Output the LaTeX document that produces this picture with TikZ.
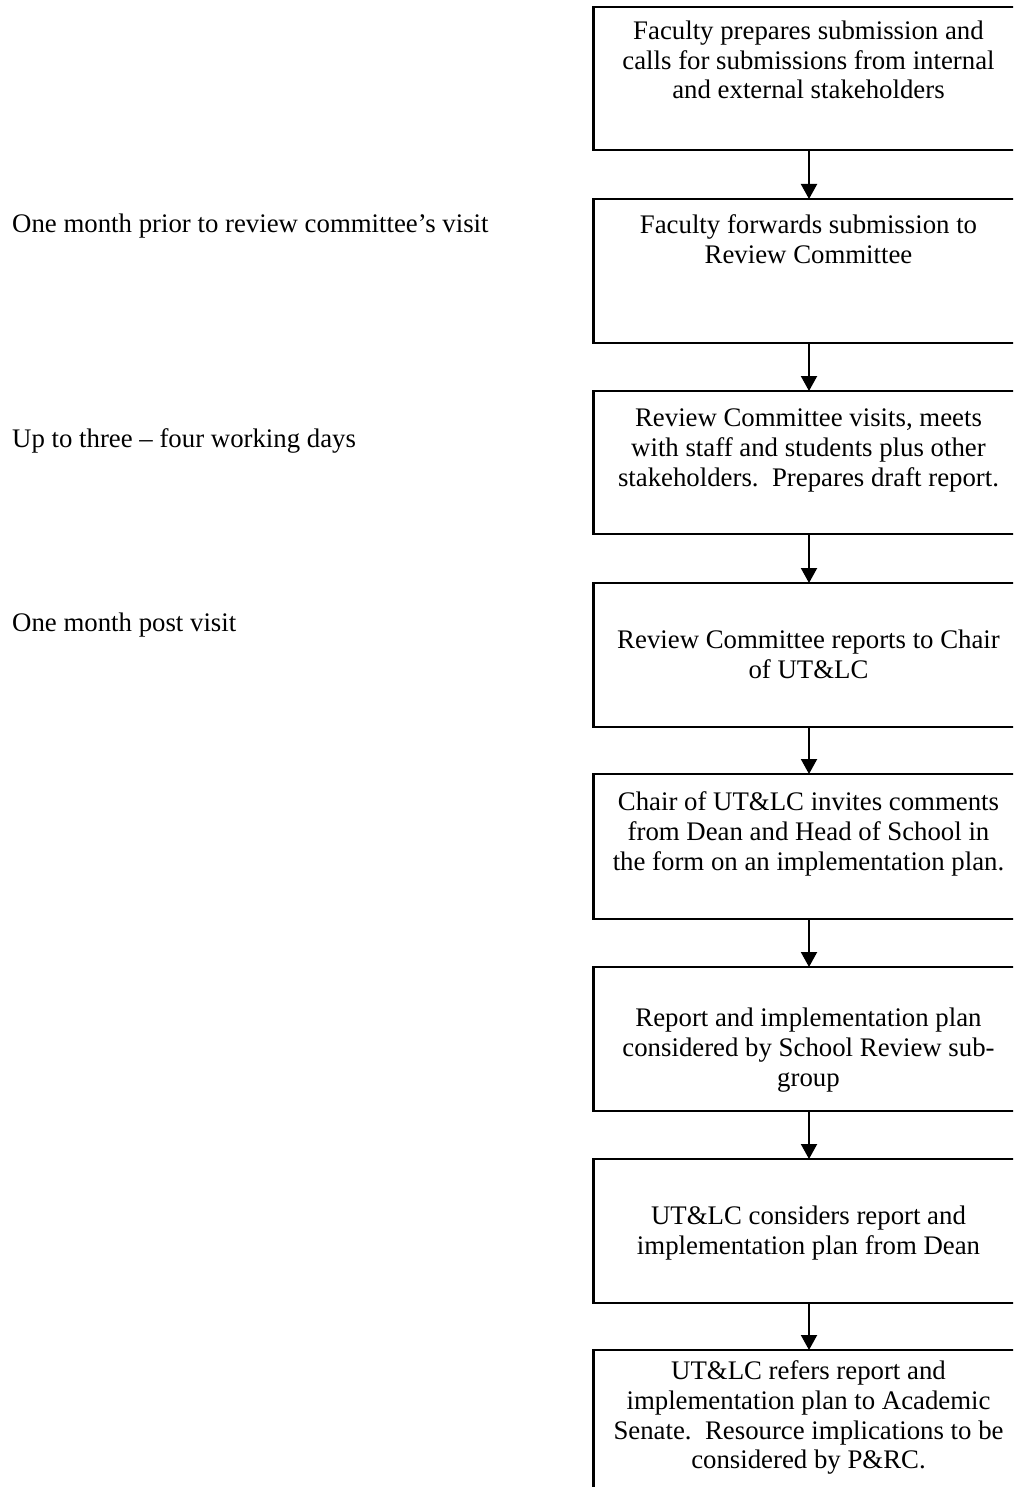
\documentclass[tikz,border=0pt]{standalone}
\usepackage{fontspec}
\setmainfont{Liberation Serif}
\usetikzlibrary{arrows.meta}
\begin{document}
\begin{tikzpicture}[x=1pt,y=1pt,
  box/.style={draw=black,line width=2.4pt,minimum width=431pt,inner sep=0pt,outer sep=0pt},
  txt/.style={anchor=north,align=center,inner sep=0pt,font=\fontsize{26.8}{29.6}\selectfont},
  lbl/.style={anchor=base west,inner sep=0pt,font=\fontsize{26.8}{29.6}\selectfont},
  flow/.style={line width=2pt,-{Triangle[width=16pt,length=15pt]}}]
\useasboundingbox (0,0) rectangle (1013,-1487);
\clip (0,0) rectangle (1013,-1487);
\fill[white] (0,0) rectangle (1013,-1487);
% boxes
\node[box,minimum height=143pt] (b1) at (809,-78.5) {};
\node[box,minimum height=144pt] (b2) at (809,-271) {};
\node[box,minimum height=143pt] (b3) at (809,-462.5) {};
\node[box,minimum height=144pt] (b4) at (809,-655) {};
\node[box,minimum height=145pt] (b5) at (809,-846.5) {};
\node[box,minimum height=144pt] (b6) at (809,-1039) {};
\node[box,minimum height=144pt] (b7) at (809,-1231) {};
\node[box,minimum height=144pt] (b8) at (809,-1422) {};
% texts
\node[txt] (t1) at (808.5,-18.5) {\strut Faculty prepares submission and\\calls for submissions from internal\\and external stakeholders};
\node[txt] (t2) at (808.5,-213) {\strut Faculty forwards submission to\\Review Committee};
\node[txt] (t3) at (808.5,-406) {\strut Review Committee visits, meets\\with staff and students plus other\\stakeholders.\ \ Prepares draft report.};
\node[txt] (t4) at (808.5,-628) {\strut Review Committee reports to Chair\\of UT\&LC};
\node[txt] (t5) at (808.5,-790) {\strut Chair of UT\&LC invites comments\\from Dean and Head of School in\\the form on an implementation plan.};
\node[txt] (t6) at (808.5,-1006) {\strut Report and implementation plan\\considered by School Review sub-\\group};
\node[txt] (t7) at (808.5,-1204) {\strut UT\&LC considers report and\\implementation plan from Dean};
\node[txt] (t8) at (808.5,-1359) {\strut UT\&LC refers report and\\implementation plan to Academic\\Senate.\ \ Resource implications to be\\considered by P\&RC.};
% left labels
\node[lbl] (l1) at (12,-233) {One month prior to review committee’s visit};
\node[lbl] (l2) at (12,-447) {Up to three – four working days};
\node[lbl] (l3) at (12,-631) {One month post visit};
% arrows
\draw[flow] (b1.south) -- (b2.north);
\draw[flow] (b2.south) -- (b3.north);
\draw[flow] (b3.south) -- (b4.north);
\draw[flow] (b4.south) -- (b5.north);
\draw[flow] (b5.south) -- (b6.north);
\draw[flow] (b6.south) -- (b7.north);
\draw[flow] (b7.south) -- (b8.north);
\end{tikzpicture}
\end{document}
